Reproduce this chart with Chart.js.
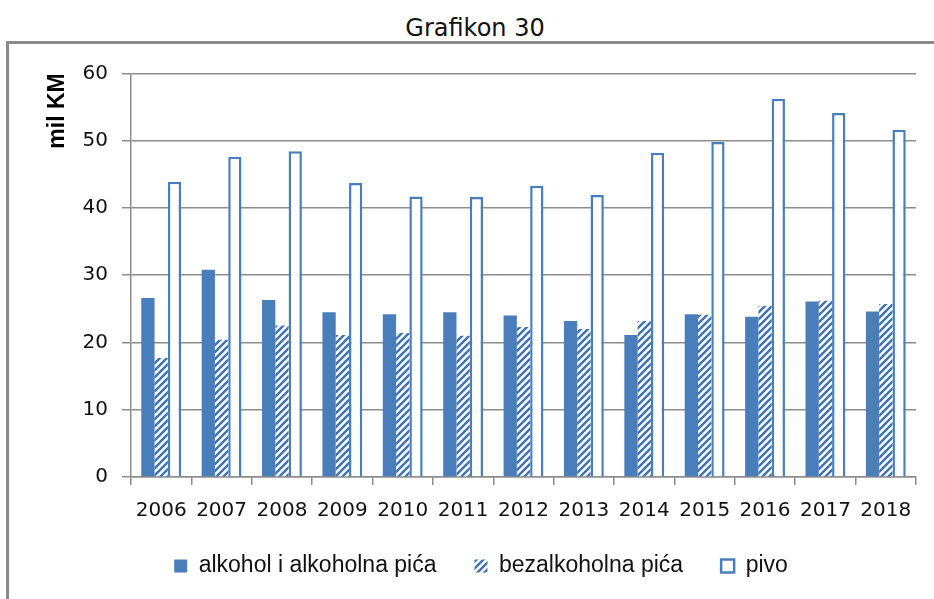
<!DOCTYPE html>
<html>
<head>
<meta charset="utf-8">
<script src="https://cdn.jsdelivr.net/npm/chart.js@4/dist/chart.umd.min.js"></script>
<style>
    body { margin: 0; background: #fff; }
    #wrap { position: relative; width: 934px; height: 599px; overflow: hidden; }
    #frame { position: absolute; left: 6px; top: 41px; width: 1000px; height: 1000px;
             border-top: 3px solid #8a8a8a; border-left: 3px solid #8a8a8a; }
    #naslov { position: absolute; left: 0; top: 14px; width: 950px; text-align: center;
              font: 24px "DejaVu Sans", Verdana, sans-serif; line-height: 28px; color: #111; }
    #revenueChart { position: absolute; left: 0; top: 0; }
</style>
</head>
<body>
<div id="wrap">
    <div id="frame"></div>
    <div id="naslov">Grafikon 30</div>
    <canvas id="revenueChart" width="934" height="599"></canvas>
</div>
<script>
const godine = ['2006', '2007', '2008', '2009', '2010', '2011', '2012', '2013', '2014', '2015', '2016', '2017', '2018'];
const alkohol = [26.6, 30.8, 26.3, 24.5, 24.2, 24.5, 24.0, 23.2, 21.1, 24.2, 23.8, 26.1, 24.6];
const bezalkoholna = [17.7, 20.4, 22.5, 21.1, 21.4, 21.0, 22.3, 22.0, 23.2, 24.1, 25.4, 26.2, 25.7];
const pivo = [43.9, 47.6, 48.4, 43.7, 41.7, 41.6, 43.3, 41.9, 48.2, 49.8, 56.2, 54.1, 51.6];
const yTicks = [0, 10, 20, 30, 40, 50, 60];

const plava = '#4a7ebb';

// hatch pattern for bezalkoholna pica
function hatch() {
    const c = document.createElement('canvas');
    c.width = 7; c.height = 7;
    const g = c.getContext('2d');
    g.fillStyle = '#fff';
    g.fillRect(0, 0, 7, 7);
    g.strokeStyle = '#3f72b0';
    g.lineWidth = 2.4;
    g.beginPath();
    g.moveTo(-1, 8); g.lineTo(8, -1);
    g.moveTo(-1, 1); g.lineTo(1, -1);
    g.moveTo(6, 8); g.lineTo(8, 6);
    g.stroke();
    return document.getElementById('revenueChart').getContext('2d').createPattern(c, 'repeat');
}

const ctx = document.getElementById('revenueChart').getContext('2d');
const myChart = new Chart(ctx, {
    type: 'bar',
    data: {
        labels: godine,
        datasets: [{
                label: 'alkohol i alkoholna pića',
                data: alkohol,
                backgroundColor: plava,
                borderWidth: 0
            }, {
                label: 'bezalkoholna pića',
                data: bezalkoholna,
                backgroundColor: hatch(),
                borderWidth: 0
            }, {
                label: 'pivo',
                data: pivo,
                backgroundColor: '#fff',
                borderColor: plava,
                borderWidth: 2.5
            }]
    },
    options: {
        responsive: false,
        animation: false,
        categoryPercentage: 0.66,
        barPercentage: 1.0,
        layout: { padding: { left: 46, right: 18, top: 73.3, bottom: 11.5 } },
        plugins: {
            tooltip: { enabled: false },
            legend: {
                position: 'bottom',
                labels: {
                    boxWidth: 13,
                    boxHeight: 13,
                    padding: 38,
                    color: '#111',
                    font: { family: '"Liberation Sans", Arial, sans-serif', size: 23 }
                }
            }
        },
        scales: {
            x: {
                afterFit: function (s) { s.height = 39.5; },
                grid: { drawOnChartArea: false, tickLength: 8, color: '#8c8c8c', lineWidth: 1.5 },
                border: { color: '#8c8c8c', width: 1.5 },
                ticks: {
                    padding: 14,
                    color: '#111',
                    font: { family: '"DejaVu Sans", Verdana, sans-serif', size: 20 }
                }
            },
            y: {
                min: 0,
                max: 60,
                afterFit: function (s) { s.width = 85; },
                afterBuildTicks: function (s) { s.ticks = yTicks.map(v => ({ value: v })); },
                grid: { tickLength: 9, color: '#8c8c8c', lineWidth: 1.5 },
                border: { color: '#8c8c8c', width: 1.5 },
                ticks: {
                    padding: 14,
                    color: '#111',
                    font: { family: '"DejaVu Sans", Verdana, sans-serif', size: 20 }
                },
                title: {
                    display: true,
                    text: 'mil KM',
                    align: 'end',
                    color: '#000',
                    padding: 0,
                    font: { family: '"Liberation Sans", Arial, sans-serif', size: 23, weight: 'bold', lineHeight: 1 }
                }
            }
        }
    }
});
</script>
</body>
</html>
